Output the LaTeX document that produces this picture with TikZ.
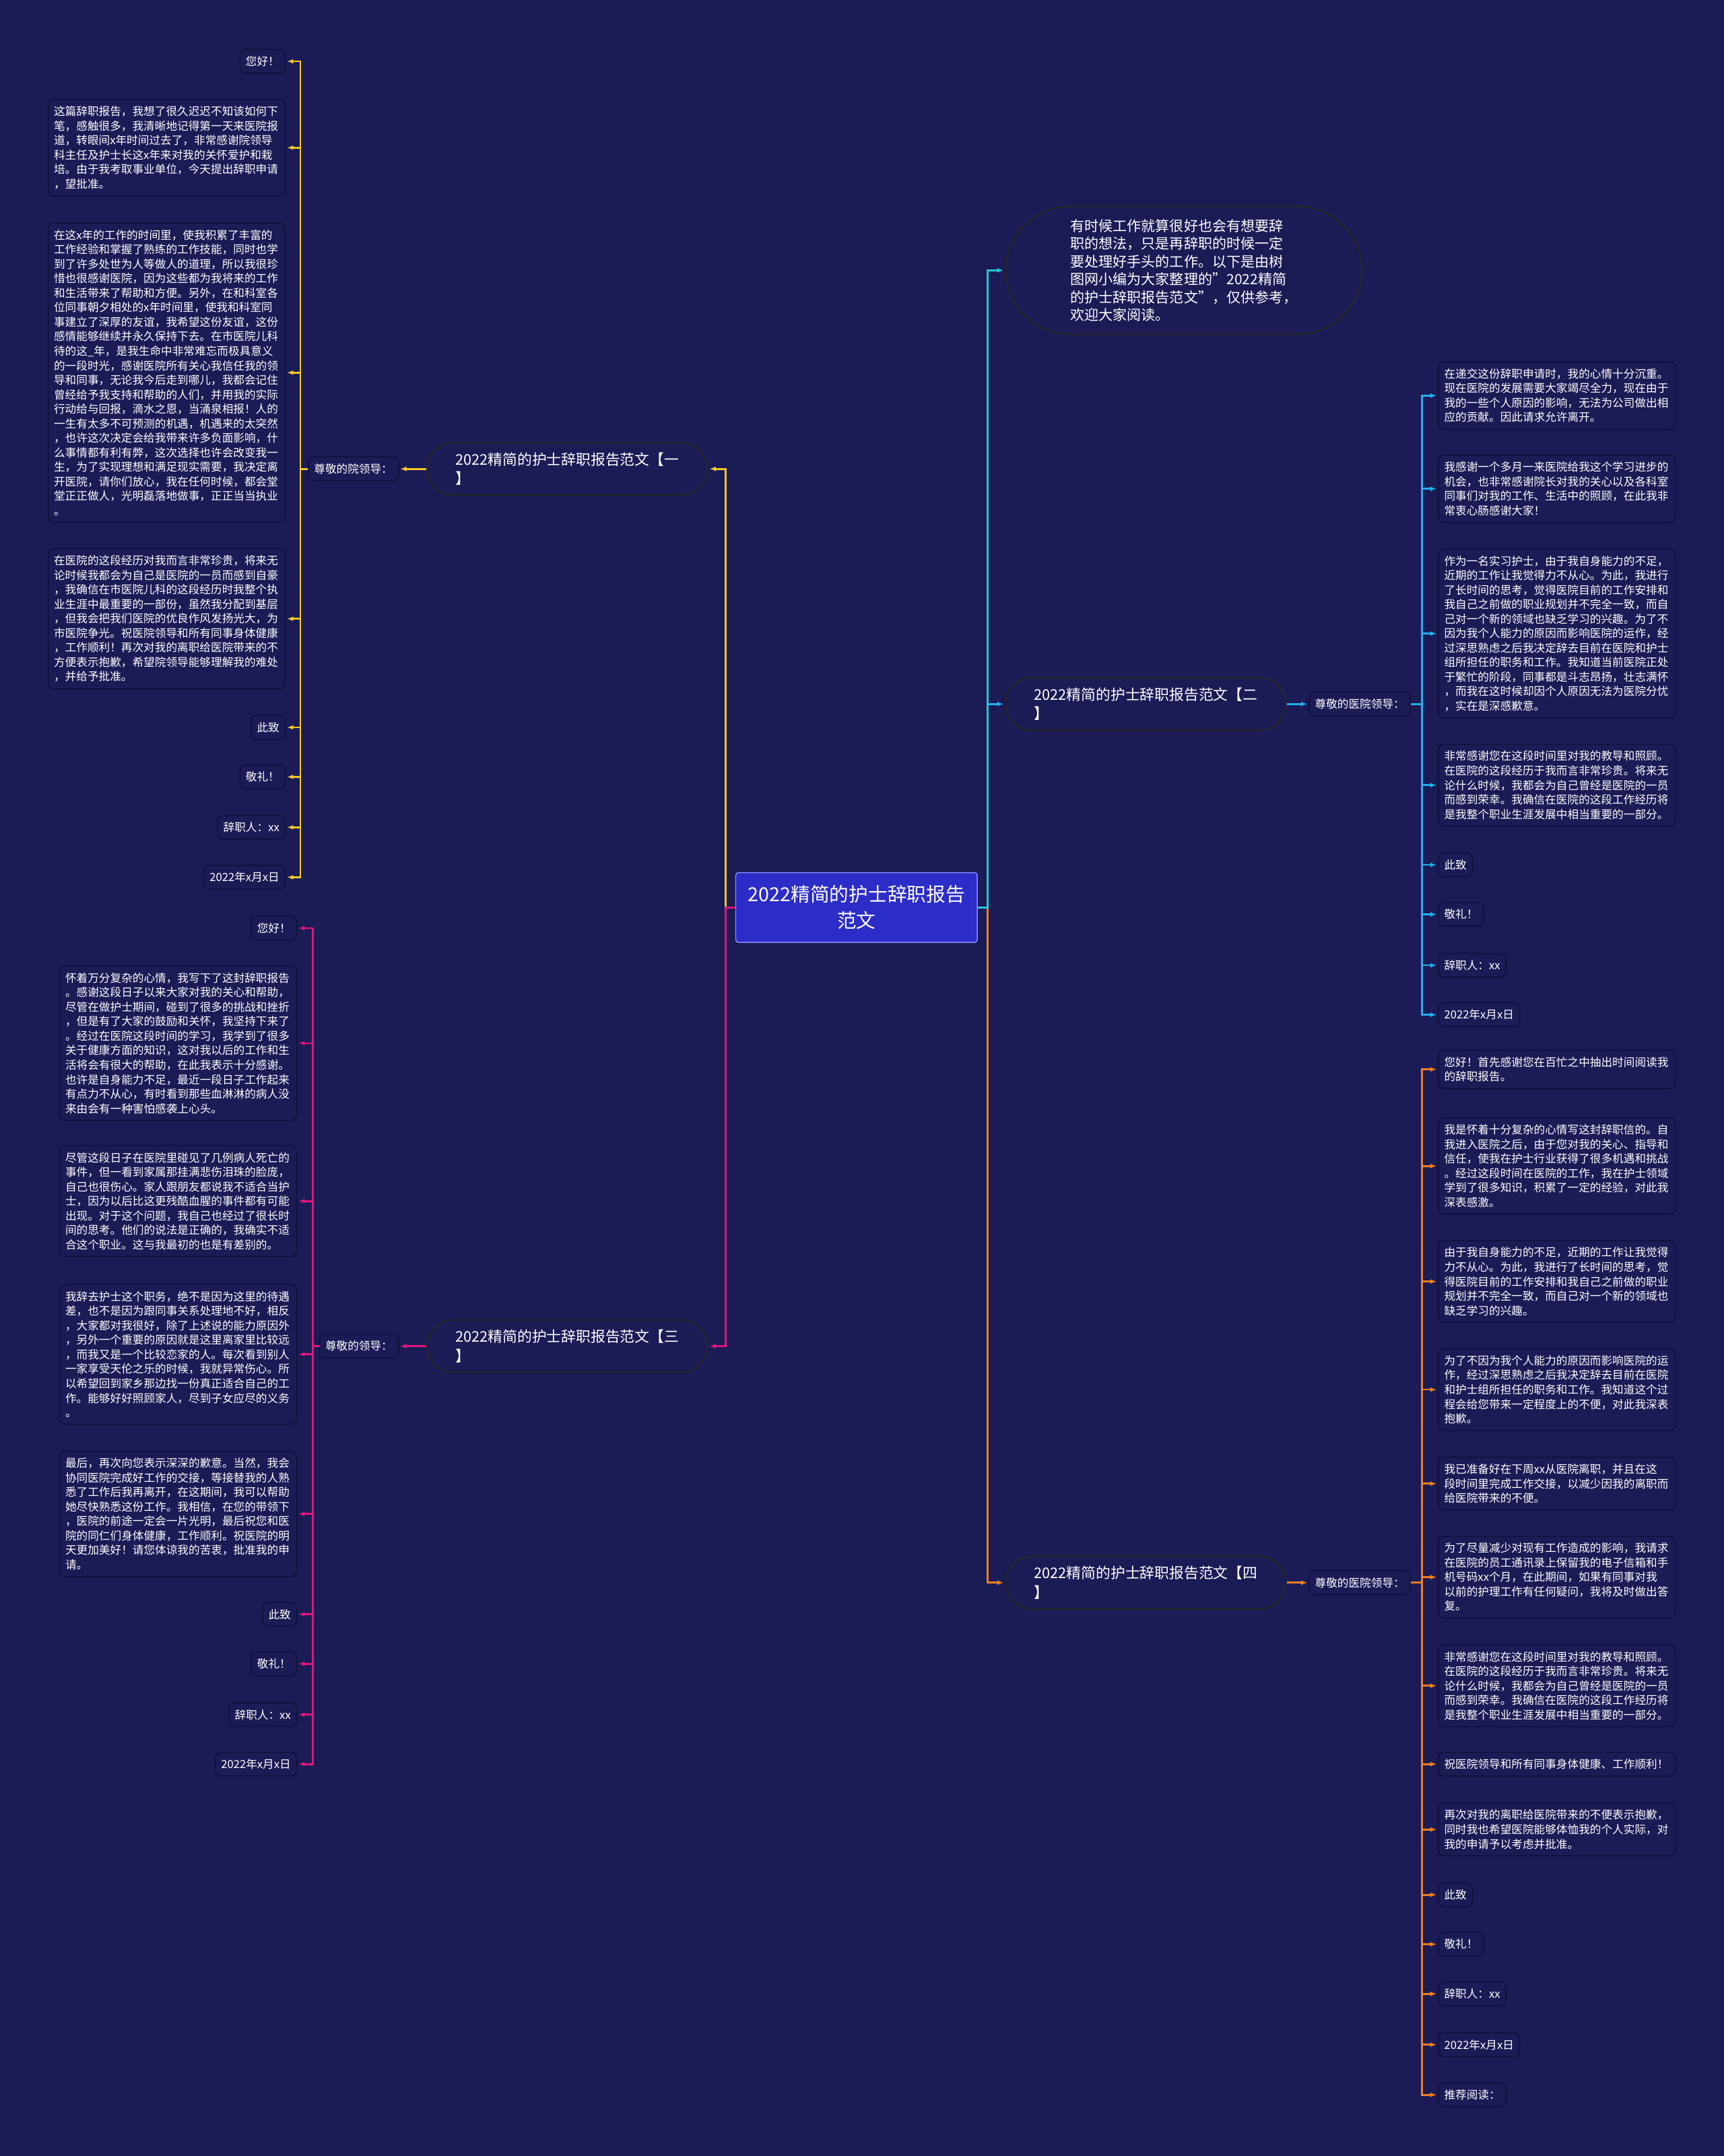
\documentclass[tikz,border=0pt]{standalone}
\usepackage{fontspec}
\setmainfont{Noto Sans CJK SC}
\usetikzlibrary{arrows.meta}

\definecolor{bgnavy}{RGB}{27,27,86}
\definecolor{boxline}{RGB}{12,12,48}
\definecolor{hubblue}{RGB}{44,44,200}
\definecolor{ylw}{RGB}{246,200,36}
\definecolor{mgt}{RGB}{222,22,122}
\definecolor{tealc}{RGB}{34,200,210}
\definecolor{skyc}{RGB}{34,176,236}
\definecolor{orng}{RGB}{240,128,32}

\tikzset{
  leaf/.style={draw=boxline, line width=0.8pt, fill=bgnavy, rounded corners=0.2cm,
    text=white, inner xsep=0.21cm, inner ysep=0.245cm, align=left,
    font=\fontsize{11.6pt}{15pt}\selectfont},
  para/.style={leaf, text width=8.2cm},
  branch/.style={draw=black!85, line width=1.5pt, fill=bgnavy, rounded corners=0.95cm,
    text=white, inner xsep=1.03cm, inner ysep=0.36cm, align=left,
    font=\fontsize{15.2pt}{19.7pt}\selectfont},
  conn/.style={->, line width=1.9pt, shorten >=1.5pt},
}

\begin{document}
\begin{tikzpicture}[x=0.05cm,y=-0.05cm,>={Latex[length=6.5pt,width=5pt]}]
\useasboundingbox (0,0) rectangle (1254,1568);
\fill[bgnavy] (0,0) rectangle (1254,1568);

% centre and main branches
\node[draw=blue!45!white, line width=1pt, fill=hubblue, rounded corners=0.1cm, text=white,
  inner xsep=0.45cm, inner ysep=0.47cm, align=center,
  font=\fontsize{20pt}{27pt}\selectfont] (hub) at (623,660) {2022精简的护士辞职报告\\范文};
\node[branch, anchor=west, inner xsep=2.35cm, inner ysep=0.46cm, rounded corners=2.35cm,
  font=\fontsize{14.7pt}{18.5pt}\selectfont] (intro) at (731,196.6)
  {有时候工作就算很好也会有想要辞\\职的想法，只是再辞职的时候一定\\要处理好手头的工作。以下是由树\\图网小编为大家整理的"2022精简\\的护士辞职报告范文"，仅供参考，\\欢迎大家阅读。};
\node[branch, anchor=east] (br1) at (515,341) {2022精简的护士辞职报告范文【一\\】};
\node[branch, anchor=west] (br2) at (731,512) {2022精简的护士辞职报告范文【二\\】};
\node[branch, anchor=east] (br3) at (515,979) {2022精简的护士辞职报告范文【三\\】};
\node[branch, anchor=west] (br4) at (731,1151) {2022精简的护士辞职报告范文【四\\】};

\node[leaf, anchor=east] (lab1) at (290,341) {尊敬的院领导：};
\node[leaf, anchor=west] (lab2) at (952,512) {尊敬的医院领导：};
\node[leaf, anchor=east] (lab3) at (290,979) {尊敬的领导：};
\node[leaf, anchor=west] (lab4) at (952,1151) {尊敬的医院领导：};

% branch one
\node[leaf, anchor=east] (a1) at (207.7,44.6) {您好！};
\node[para, anchor=east] (a2) at (207.7,107.4) {这篇辞职报告，我想了很久迟迟不知该如何下\\笔，感触很多，我清晰地记得第一天来医院报\\道，转眼间x年时间过去了，非常感谢院领导\\科主任及护士长这x年来对我的关怀爱护和栽\\培。由于我考取事业单位，今天提出辞职申请\\，望批准。};
\node[para, anchor=east] (a3) at (207.7,271) {在这x年的工作的时间里，使我积累了丰富的\\工作经验和掌握了熟练的工作技能，同时也学\\到了许多处世为人等做人的道理，所以我很珍\\惜也很感谢医院，因为这些都为我将来的工作\\和生活带来了帮助和方便。另外，在和科室各\\位同事朝夕相处的x年时间里，使我和科室同\\事建立了深厚的友谊，我希望这份友谊，这份\\感情能够继续并永久保持下去。在市医院儿科\\待的这\_年，是我生命中非常难忘而极具意义\\的一段时光，感谢医院所有关心我信任我的领\\导和同事，无论我今后走到哪儿，我都会记住\\曾经给予我支持和帮助的人们，并用我的实际\\行动给与回报，滴水之恩，当涌泉相报！人的\\一生有太多不可预测的机遇，机遇来的太突然\\，也许这次决定会给我带来许多负面影响，什\\么事情都有利有弊，这次选择也许会改变我一\\生，为了实现理想和满足现实需要，我决定离\\开医院，请你们放心，我在任何时候，都会堂\\堂正正做人，光明磊落地做事，正正当当执业\\。};
\node[para, anchor=east] (a4) at (207.7,450) {在医院的这段经历对我而言非常珍贵，将来无\\论时候我都会为自己是医院的一员而感到自豪\\，我确信在市医院儿科的这段经历时我整个执\\业生涯中最重要的一部份，虽然我分配到基层\\，但我会把我们医院的优良作风发扬光大，为\\市医院争光。祝医院领导和所有同事身体健康\\，工作顺利！再次对我的离职给医院带来的不\\方便表示抱歉，希望院领导能够理解我的难处\\，并给予批准。};
\node[leaf, anchor=east] (a5) at (207.7,529) {此致};
\node[leaf, anchor=east] (a6) at (207.7,565) {敬礼！};
\node[leaf, anchor=east] (a7) at (207.7,601.7) {辞职人：xx};
\node[leaf, anchor=east] (a8) at (207.7,638) {2022年x月x日};

% branch three
\node[leaf, anchor=east] (c1) at (216,675) {您好！};
\node[para, anchor=east] (c2) at (216,758.7) {怀着万分复杂的心情，我写下了这封辞职报告\\。感谢这段日子以来大家对我的关心和帮助，\\尽管在做护士期间，碰到了很多的挑战和挫折\\，但是有了大家的鼓励和关怀，我坚持下来了\\。经过在医院这段时间的学习，我学到了很多\\关于健康方面的知识，这对我以后的工作和生\\活将会有很大的帮助，在此我表示十分感谢。\\也许是自身能力不足，最近一段日子工作起来\\有点力不从心，有时看到那些血淋淋的病人没\\来由会有一种害怕感袭上心头。};
\node[para, anchor=east] (c3) at (216,873.5) {尽管这段日子在医院里碰见了几例病人死亡的\\事件，但一看到家属那挂满悲伤泪珠的脸庞，\\自己也很伤心。家人跟朋友都说我不适合当护\\士，因为以后比这更残酷血腥的事件都有可能\\出现。对于这个问题，我自己也经过了很长时\\间的思考。他们的说法是正确的，我确实不适\\合这个职业。这与我最初的也是有差别的。};
\node[para, anchor=east] (c4) at (216,985) {我辞去护士这个职务，绝不是因为这里的待遇\\差，也不是因为跟同事关系处理地不好，相反\\，大家都对我很好，除了上述说的能力原因外\\，另外一个重要的原因就是这里离家里比较远\\，而我又是一个比较恋家的人。每次看到别人\\一家享受天伦之乐的时候，我就异常伤心。所\\以希望回到家乡那边找一份真正适合自己的工\\作。能够好好照顾家人，尽到子女应尽的义务\\。};
\node[para, anchor=east] (c5) at (216,1101) {最后，再次向您表示深深的歉意。当然，我会\\协同医院完成好工作的交接，等接替我的人熟\\悉了工作后我再离开，在这期间，我可以帮助\\她尽快熟悉这份工作。我相信，在您的带领下\\，医院的前途一定会一片光明，最后祝您和医\\院的同仁们身体健康，工作顺利。祝医院的明\\天更加美好！请您体谅我的苦衷，批准我的申\\请。};
\node[leaf, anchor=east] (c6) at (216,1174) {此致};
\node[leaf, anchor=east] (c7) at (216,1210) {敬礼！};
\node[leaf, anchor=east] (c8) at (216,1247) {辞职人：xx};
\node[leaf, anchor=east] (c9) at (216,1283) {2022年x月x日};

% branch two
\node[para, anchor=west] (b1) at (1046,287.7) {在递交这份辞职申请时，我的心情十分沉重。\\现在医院的发展需要大家竭尽全力，现在由于\\我的一些个人原因的影响，无法为公司做出相\\应的贡献。因此请求允许离开。};
\node[para, anchor=west] (b2) at (1046,355.5) {我感谢一个多月一来医院给我这个学习进步的\\机会，也非常感谢院长对我的关心以及各科室\\同事们对我的工作、生活中的照顾，在此我非\\常衷心肠感谢大家！};
\node[para, anchor=west] (b3) at (1046,460.8) {作为一名实习护士，由于我自身能力的不足，\\近期的工作让我觉得力不从心。为此，我进行\\了长时间的思考，觉得医院目前的工作安排和\\我自己之前做的职业规划并不完全一致，而自\\己对一个新的领域也缺乏学习的兴趣。为了不\\因为我个人能力的原因而影响医院的运作，经\\过深思熟虑之后我决定辞去目前在医院和护士\\组所担任的职务和工作。我知道当前医院正处\\于繁忙的阶段，同事都是斗志昂扬，壮志满怀\\，而我在这时候却因个人原因无法为医院分忧\\，实在是深感歉意。};
\node[para, anchor=west] (b4) at (1046,571) {非常感谢您在这段时间里对我的教导和照顾。\\在医院的这段经历于我而言非常珍贵。将来无\\论什么时候，我都会为自己曾经是医院的一员\\而感到荣幸。我确信在医院的这段工作经历将\\是我整个职业生涯发展中相当重要的一部分。};
\node[leaf, anchor=west] (b5) at (1046,629) {此致};
\node[leaf, anchor=west] (b6) at (1046,665) {敬礼！};
\node[leaf, anchor=west] (b7) at (1046,702) {辞职人：xx};
\node[leaf, anchor=west] (b8) at (1046,738) {2022年x月x日};

% branch four
\node[para, anchor=west] (d1) at (1046,777.7) {您好！首先感谢您在百忙之中抽出时间阅读我\\的辞职报告。};
\node[para, anchor=west] (d2) at (1046,848) {我是怀着十分复杂的心情写这封辞职信的。自\\我进入医院之后，由于您对我的关心、指导和\\信任，使我在护士行业获得了很多机遇和挑战\\。经过这段时间在医院的工作，我在护士领域\\学到了很多知识，积累了一定的经验，对此我\\深表感激。};
\node[para, anchor=west] (d3) at (1046,932) {由于我自身能力的不足，近期的工作让我觉得\\力不从心。为此，我进行了长时间的思考，觉\\得医院目前的工作安排和我自己之前做的职业\\规划并不完全一致，而自己对一个新的领域也\\缺乏学习的兴趣。};
\node[para, anchor=west] (d4) at (1046,1010.6) {为了不因为我个人能力的原因而影响医院的运\\作，经过深思熟虑之后我决定辞去目前在医院\\和护士组所担任的职务和工作。我知道这个过\\程会给您带来一定程度上的不便，对此我深表\\抱歉。};
\node[para, anchor=west] (d5) at (1046,1079) {我已准备好在下周xx从医院离职，并且在这\\段时间里完成工作交接，以减少因我的离职而\\给医院带来的不便。};
\node[para, anchor=west] (d6) at (1046,1147) {为了尽量减少对现有工作造成的影响，我请求\\在医院的员工通讯录上保留我的电子信箱和手\\机号码xx个月，在此期间，如果有同事对我\\以前的护理工作有任何疑问，我将及时做出答\\复。};
\node[para, anchor=west] (d7) at (1046,1226) {非常感谢您在这段时间里对我的教导和照顾。\\在医院的这段经历于我而言非常珍贵。将来无\\论什么时候，我都会为自己曾经是医院的一员\\而感到荣幸。我确信在医院的这段工作经历将\\是我整个职业生涯发展中相当重要的一部分。};
\node[para, anchor=west] (d8) at (1046,1283) {祝医院领导和所有同事身体健康、工作顺利！};
\node[para, anchor=west] (d9) at (1046,1330.5) {再次对我的离职给医院带来的不便表示抱歉，\\同时我也希望医院能够体恤我的个人实际，对\\我的申请予以考虑并批准。};
\node[leaf, anchor=west] (d10) at (1046,1378) {此致};
\node[leaf, anchor=west] (d11) at (1046,1414) {敬礼！};
\node[leaf, anchor=west] (d12) at (1046,1450) {辞职人：xx};
\node[leaf, anchor=west] (d13) at (1046,1487) {2022年x月x日};
\node[leaf, anchor=west] (d14) at (1046,1523.5) {推荐阅读：};

% connectors
\draw[conn,ylw] (hub.west) -- ++(-7,0) |- (br1.east);
\draw[conn,mgt] (hub.west) -- ++(-7,0) |- (br3.east);
\draw[conn,orng] (hub.east) -- ++(7,0) |- (br4.west);
\draw[conn,skyc] (hub.east) -- ++(7,0) |- (br2.west);
\draw[conn,tealc] (hub.east) -- ++(7,0) |- (intro.west);

\draw[conn,ylw] (br1.west) -- (lab1.east);
\draw[conn,skyc] (br2.east) -- (lab2.west);
\draw[conn,mgt] (br3.west) -- (lab3.east);
\draw[conn,orng] (br4.east) -- (lab4.west);

\foreach \n in {a1,a2,a3,a4,a5,a6,a7,a8}
  \draw[conn,ylw] (lab1.west) -- ++(-5.5,0) |- (\n.east);
\foreach \n in {c1,c2,c3,c4,c5,c6,c7,c8,c9}
  \draw[conn,mgt] (lab3.west) -- ++(-4.5,0) |- (\n.east);
\foreach \n in {b1,b2,b3,b4,b5,b6,b7,b8}
  \draw[conn,skyc] (lab2.east) -- ++(8,0) |- (\n.west);
\foreach \n in {d1,d2,d3,d4,d5,d6,d7,d8,d9,d10,d11,d12,d13,d14}
  \draw[conn,orng] (lab4.east) -- ++(8,0) |- (\n.west);
\end{tikzpicture}
\end{document}
